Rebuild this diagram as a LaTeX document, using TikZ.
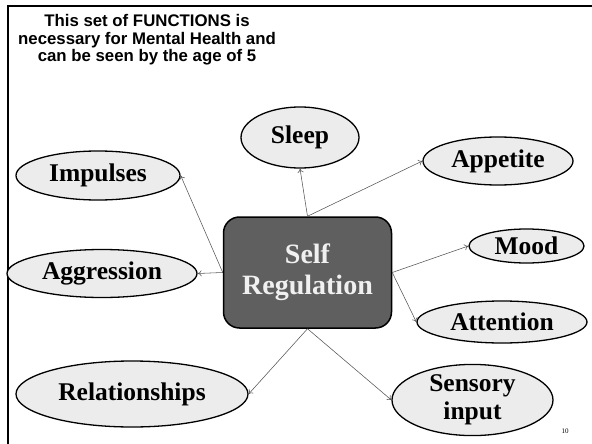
\documentclass[tikz,border=0pt]{standalone}
\usepackage{fontspec}
\setmainfont{Liberation Serif}
\newfontfamily\titlefont{Liberation Sans}
\usetikzlibrary{shapes.geometric,arrows.meta}
\definecolor{bubblefill}{HTML}{ECECEC}
\definecolor{hubfill}{HTML}{5F5F5F}
\definecolor{linkgray}{HTML}{555555}
\tikzset{
  bubble/.style={ellipse, draw=black, line width=1.3pt, fill=bubblefill,
    inner sep=0pt, font=\fontsize{25.5}{27}\selectfont\bfseries, align=center},
  hub/.style={rounded corners=16pt, draw=black, line width=1.5pt, fill=hubfill,
    minimum width=168pt, minimum height=111pt, inner sep=0pt,
    text=white!94!black, font=\fontsize{28}{31}\selectfont\bfseries, align=center},
  link/.style={draw=linkgray, line width=0.55pt, -{To[length=4pt,width=6pt]}},
  frame/.style={line width=2pt, black}
}
\begin{document}
\begin{tikzpicture}[x=1pt,y=-1pt]
  \useasboundingbox (0,0) rectangle (592,444);
  % slide frame
  \draw[frame] (592,5.7) -- (8.3,5.7) -- (8.3,444);
  % heading
  \node[font=\titlefont\fontsize{16.8}{17.6}\selectfont\bfseries, align=center]
    (title) at (147,40) {This set of FUNCTIONS is\\necessary for Mental Health and\\can be seen by the age of 5};
  % central box
  \node[hub] (self) at (307.5,272.5) {Self\\Regulation};
  % functions around it
  \node[bubble, minimum width=118pt, minimum height=61pt] (sleep) at (300,137.5) {Sleep};
  \node[bubble, minimum width=150pt, minimum height=48pt] (appetite) at (498,161) {Appetite};
  \node[bubble, minimum width=115pt, minimum height=34pt] (mood) at (526.5,246) {Mood};
  \node[bubble, minimum width=170pt, minimum height=42pt] (attention) at (502,322) {Attention};
  \node[bubble, minimum width=164pt, minimum height=49pt] (impulses) at (98,175.5) {Impulses};
  \node[bubble, minimum width=190pt, minimum height=48pt] (aggression) at (102,273.5) {Aggression};
  \node[bubble, minimum width=232pt, minimum height=66pt] (relationships) at (132,394) {Relationships};
  \node[bubble, minimum width=161pt, minimum height=66pt,
    font=\fontsize{25.5}{28}\selectfont\bfseries] (sensory) at (472.5,400) {Sensory\\input};
  % connectors
  \draw[link] (self.north) -- (sleep.south);
  \draw[link] (self.north) -- (appetite.west);
  \draw[link] (self.west) -- (impulses.east);
  \draw[link] (self.west) -- (aggression.east);
  \draw[link] (self.east) -- (mood.west);
  \draw[link] (self.east) -- (attention.west);
  \draw[link] (self.south) -- (relationships.east);
  \draw[link] (self.south) -- (sensory.west);
  % slide number
  \node[font=\fontsize{7}{8}\selectfont] (pagenum) at (565,431) {10};
\end{tikzpicture}
\end{document}
